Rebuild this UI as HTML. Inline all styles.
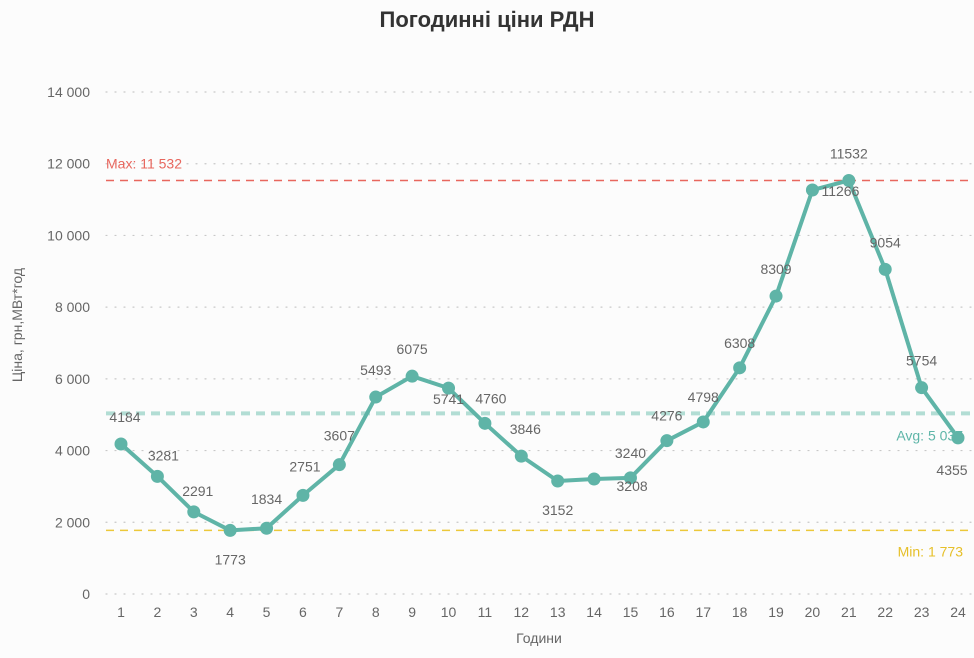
<!DOCTYPE html>
<html><head><meta charset="utf-8">
<style>
html,body{margin:0;padding:0;background:#fcfcfc;}
svg{display:block;font-family:"Liberation Sans","DejaVu Sans",sans-serif;}
</style></head>
<body>
<svg id="chart" width="974" height="658" viewBox="0 0 974 658">
<rect width="974" height="658" fill="#fcfcfc"/>
<text x="487" y="27" text-anchor="middle" font-size="22" font-weight="bold" fill="#333">Погодинні ціни РДН</text>
<text transform="translate(22,325) rotate(-90)" text-anchor="middle" font-size="14" fill="#666">Ціна, грн,МВт*год</text>
<text x="539" y="643" text-anchor="middle" font-size="14" fill="#666">Години</text>
<g id="grid"></g><g id="refs"></g><g id="series"></g><g id="labels"></g>
</svg>
<script>
const hours = [1,2,3,4,5,6,7,8,9,10,11,12,13,14,15,16,17,18,19,20,21,22,23,24];
const prices = [4184,3281,2291,1773,1834,2751,3607,5493,6075,5741,4760,3846,3152,3208,3240,4276,4798,6308,8309,11266,11532,9054,5754,4355];
const yTicks = [0,2000,4000,6000,8000,10000,12000,14000];
const yTickLabels = ["0","2 000","4 000","6 000","8 000","10 000","12 000","14 000"];
const maxVal = 11532, minVal = 1773, avgVal = 5037;

const NS="http://www.w3.org/2000/svg";
const x0=121, x1=958, yTop=92, yBot=594, yMax=14000;
const xS=h=>x0+(h-1)*(x1-x0)/23;
const yS=v=>yBot-v/yMax*(yBot-yTop);
function mk(tag,attrs,parent,text){const e=document.createElementNS(NS,tag);for(const k in attrs)e.setAttribute(k,attrs[k]);if(text!==undefined)e.textContent=text;parent.appendChild(e);return e;}
const grid=document.getElementById('grid'),refs=document.getElementById('refs'),series=document.getElementById('series'),labels=document.getElementById('labels');

yTicks.forEach((t,i)=>{
  const y=yS(t);
  const l=mk('line',{x1:106,x2:974,y1:y,y2:y,stroke:'#c8c8c8','stroke-width':1.2,'stroke-dasharray':'1 8','stroke-linecap':'round'},grid);
  
  
  const tx=mk('text',{x:90,y:y+5,'text-anchor':'end','font-size':14,fill:'#666'},grid,yTickLabels[i]);
  
  
});
hours.forEach(h=>{
  const tx=mk('text',{x:xS(h),y:617,'text-anchor':'middle','font-size':14,fill:'#666'},grid,String(h));
  
  
});

function refLine(v,color,w,dash,name){
  const l=mk('line',{x1:106,x2:974,y1:yS(v),y2:yS(v),stroke:color,'stroke-width':w,'stroke-dasharray':dash},refs);
  
  
}
refLine(maxVal,'#e8675e',1.5,'8 6','max-line');
refLine(minVal,'#ecc83a',1.5,'8 6','min-line');
refLine(avgVal,'#b2ddd4',4,'9 6','avg-line');
let t=mk('text',{x:106,y:yS(maxVal)-12,'font-size':14,fill:'#e8675e'},refs,'Max: 11 532');


t=mk('text',{x:963,y:yS(minVal)+26,'text-anchor':'end','font-size':14,fill:'#e6c02a'},refs,'Min: 1 773');


t=mk('text',{x:963,y:yS(avgVal)+27,'text-anchor':'end','font-size':14,fill:'#5eb5a8'},refs,'Avg: 5 037');



const pts=hours.map((h,i)=>xS(h)+','+yS(prices[i])).join(' ');
const pl=mk('polyline',{points:pts,fill:'none',stroke:'#5fb4a7','stroke-width':4,'stroke-linejoin':'round'},series);


// label placement offsets (style only)
const ldx=[4,6,4,0,0,2,0,0,0,0,6,4,0,38,0,0,0,0,0,28,0,0,0,-6];
const ldy=[-22,-16,-16,34,-24,-24,-24,-22,-22,16,-20,-22,34,12,-20,-20,-20,-20,-22,6,-22,-22,-22,37];
hours.forEach((h,i)=>{
  const c=mk('circle',{cx:xS(h),cy:yS(prices[i]),r:6.5,fill:'#5fb4a7'},series);
  
  
  const lb=mk('text',{x:xS(h)+ldx[i],y:yS(prices[i])+ldy[i],'text-anchor':'middle','font-size':14,fill:'#666'},labels,String(prices[i]));
  
  
});
</script>
</body></html>
